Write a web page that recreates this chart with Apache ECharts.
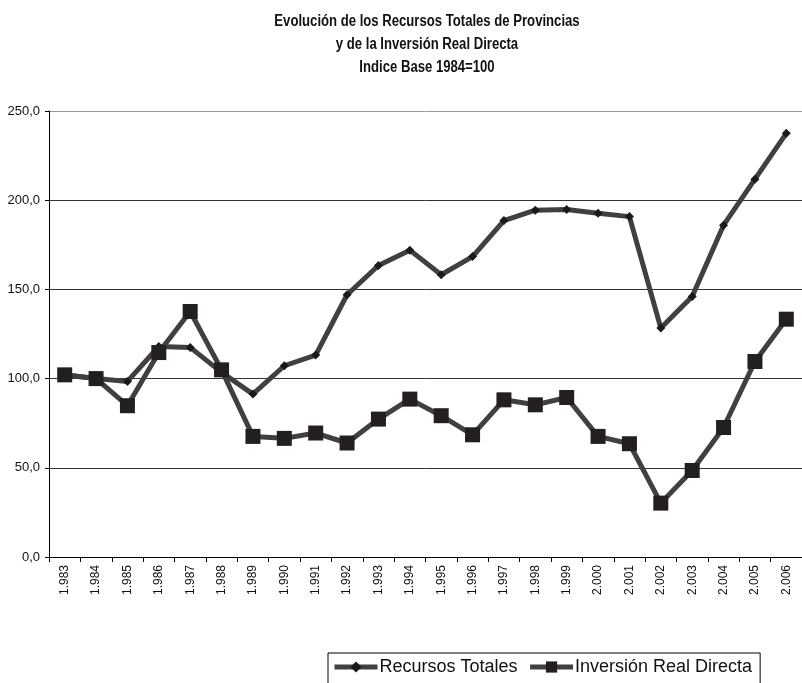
<!DOCTYPE html>
<html>
<head>
<meta charset="utf-8">
<script src="https://cdn.jsdelivr.net/npm/echarts@6/dist/echarts.min.js"></script>
<style>
  html, body { margin: 0; padding: 0; background: #fff; }
  #chart { width: 802px; height: 683px; }
</style>
</head>
<body>
<div id="chart"></div>
<script>
// Years on the category axis
const years = ['1.983','1.984','1.985','1.986','1.987','1.988','1.989','1.990','1.991','1.992','1.993','1.994',
               '1.995','1.996','1.997','1.998','1.999','2.000','2.001','2.002','2.003','2.004','2.005','2.006'];

// Index, base 1984 = 100
const recursosTotales = [102.0, 100.0, 98.4, 118.0, 117.5, 103.5, 91.3, 107.2, 113.2, 147.0, 163.4, 172.0,
                         158.2, 168.4, 188.6, 194.4, 194.8, 192.7, 190.8, 128.3, 146.0, 186.0, 211.8, 237.5];
const inversionRealDirecta = [102.1, 100.0, 84.8, 114.6, 137.6, 104.9, 67.6, 66.5, 69.5, 63.9, 77.3, 88.5,
                              79.2, 68.5, 88.1, 85.3, 89.4, 67.6, 63.5, 30.2, 48.5, 72.6, 109.6, 133.3];

const seriesNames = ['Recursos Totales', 'Inversión Real Directa'];
const titleLines = ['Evolución de los Recursos Totales de Provincias', 'y de la Inversión Real Directa', 'Indice Base 1984=100'];

const fontSans = '"Liberation Sans", Arial, sans-serif';

// Title as three condensed bold lines centred over the plot
const titleCenterX = 427;
const titleRows = [22, 45, 68];
const titleGraphics = titleLines.map((line, i) => ({
  type: 'text',
  x: titleCenterX,
  y: titleRows[i],
  scaleX: 0.82,
  silent: true,
  style: {
    text: line,
    font: 'bold 16px ' + fontSans,
    fill: '#111',
    textAlign: 'center',
    textVerticalAlign: 'middle'
  }
}));

const chart = echarts.init(document.getElementById('chart'), null, { renderer: 'canvas' });

chart.setOption({
  animation: false,
  backgroundColor: '#ffffff',
  graphic: titleGraphics,
  legend: {
    data: seriesNames,
    left: 328,
    top: 653,
    orient: 'horizontal',
    itemWidth: 43,
    itemHeight: 14,
    itemGap: 10,
    padding: [5, 8, 14, 4],
    borderColor: '#000',
    borderWidth: 1,
    backgroundColor: '#fff',
    lineStyle: { width: 5, color: '#404040' },
    textStyle: {
      fontFamily: fontSans,
      fontSize: 18,
      color: '#111',
      padding: [0, 0, 0, -3]
    }
  },
  grid: {
    left: 49,
    top: 111,
    right: -9,
    bottom: 126,
    containLabel: false
  },
  xAxis: {
    type: 'category',
    data: years,
    boundaryGap: true,
    axisLine: { show: true, lineStyle: { color: '#000', width: 1 } },
    axisTick: { show: true, alignWithLabel: false, length: 5, lineStyle: { color: '#000' } },
    axisLabel: {
      rotate: 90,
      interval: 0,
      margin: 8,
      fontFamily: fontSans,
      fontSize: 12,
      color: '#111'
    },
    splitLine: { show: false }
  },
  yAxis: {
    type: 'value',
    min: 0,
    max: 250,
    interval: 50,
    axisLine: { show: true, lineStyle: { color: '#000', width: 1 } },
    axisTick: { show: true, length: 4, lineStyle: { color: '#000' } },
    axisLabel: {
      margin: 9,
      fontFamily: fontSans,
      fontSize: 13,
      color: '#111',
      formatter: v => v.toFixed(1).replace('.', ',')
    },
    splitLine: {
      show: true,
      lineStyle: { color: ['#333', '#333', '#333', '#333', '#333', '#999'], width: 1 }
    }
  },
  series: [
    {
      name: seriesNames[0],
      type: 'line',
      data: recursosTotales,
      symbol: 'diamond',
      symbolSize: 9,
      itemStyle: { color: '#1a1a1a' },
      lineStyle: { color: '#404040', width: 5 },
      z: 3
    },
    {
      name: seriesNames[1],
      type: 'line',
      data: inversionRealDirecta,
      symbol: 'rect',
      symbolSize: 15,
      itemStyle: { color: '#231f20' },
      lineStyle: { color: '#404040', width: 5 },
      z: 4
    }
  ]
});
</script>
</body>
</html>
